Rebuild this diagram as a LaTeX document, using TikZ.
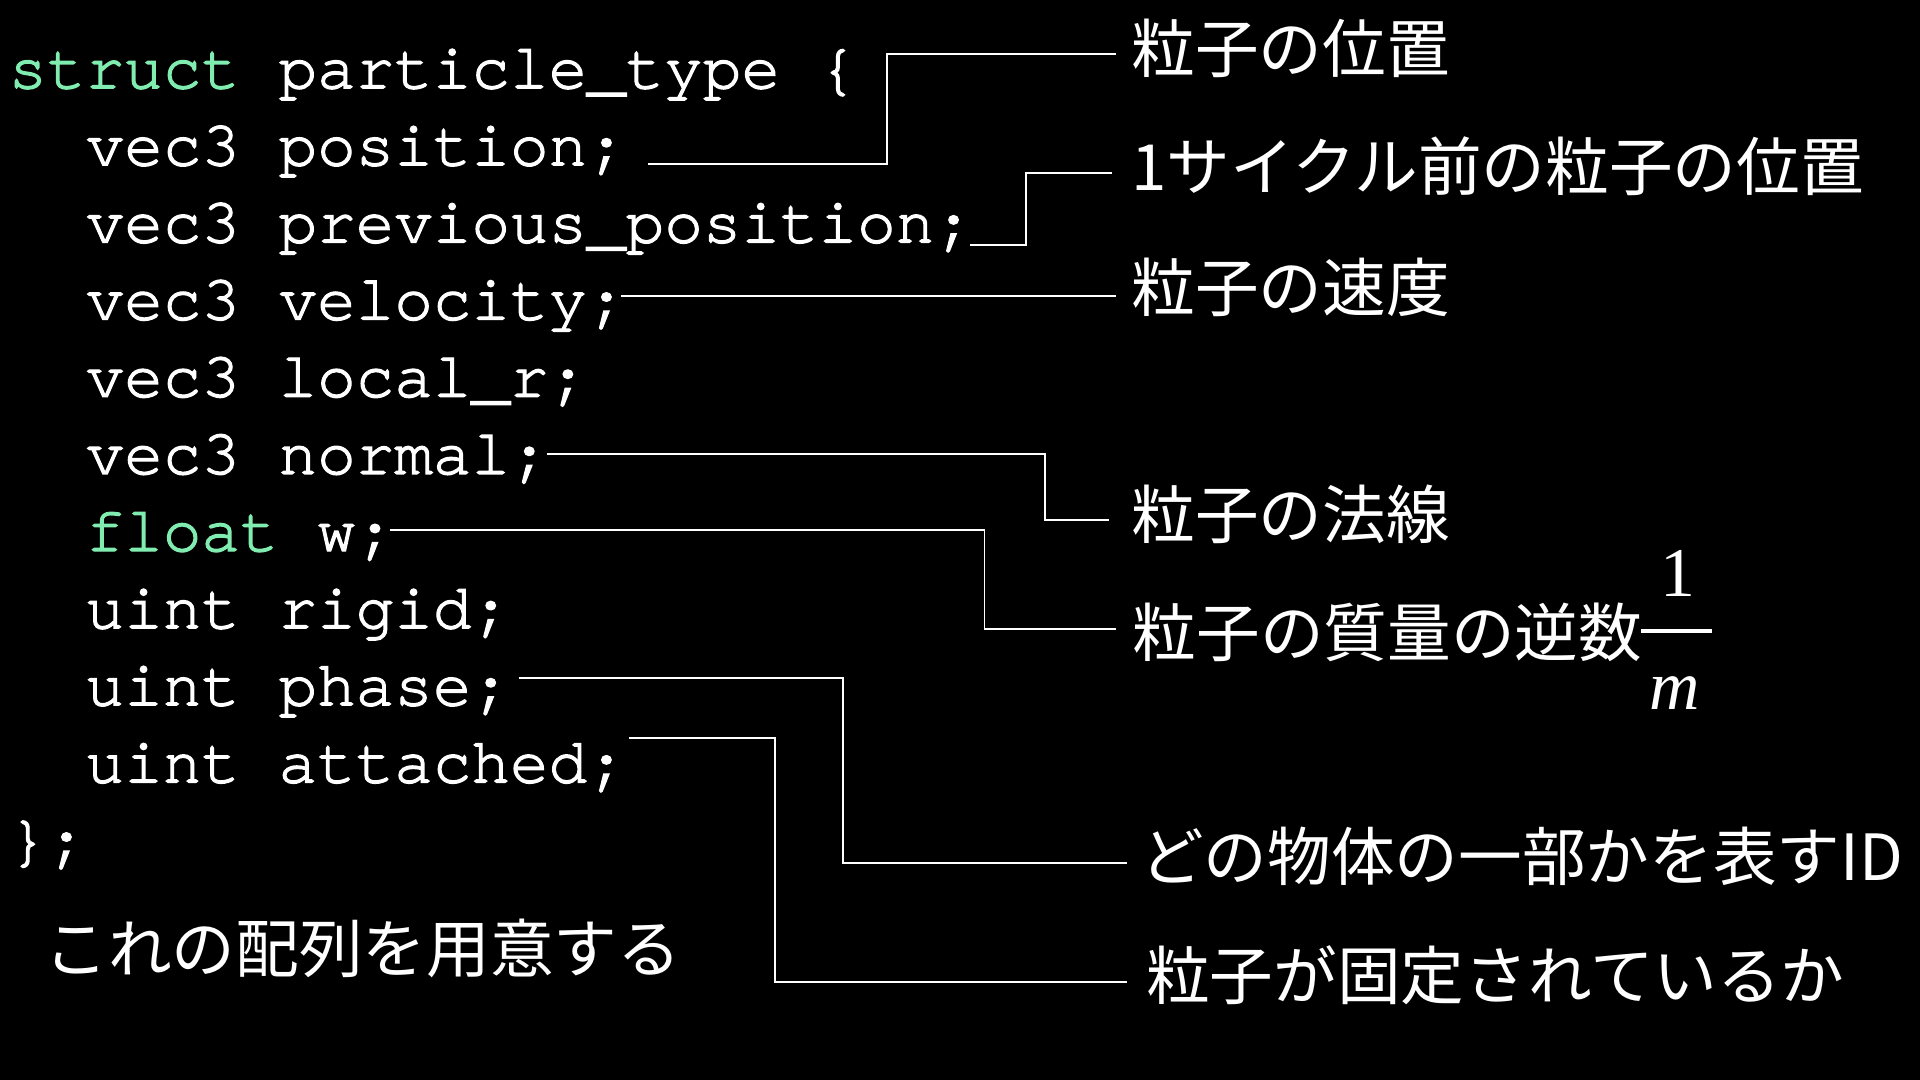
\documentclass[tikz,border=0pt]{standalone}
\usepackage{fontspec}
\newfontfamily\codefont{TeX Gyre Cursor}[FakeBold=2,Ligatures={NoCommon}]
\newfontfamily\jpfont{Noto Sans CJK JP}
\newfontfamily\mathserif{Liberation Serif}
\definecolor{kw}{RGB}{128,236,176}
\begin{document}
\begin{tikzpicture}[x=1pt,y=-1pt,
  code/.style={anchor=base west,inner sep=0pt,outer sep=0pt,text=white,
    font=\codefont\fontsize{52.5}{60}\selectfont},
  lab/.style={anchor=base west,inner sep=0pt,text=white,
    font=\jpfont\fontsize{52}{60}\selectfont},
  conn/.style={draw=white,line width=1.6pt}]
\fill[black] (0,0) rectangle (1568,882);
\useasboundingbox (0,0) rectangle (1568,882);
% code
\node[code] (c0) at (7,72) {\textcolor{kw}{struct} particle\_type \{};
\node[code] (c1) at (70,135) {vec3 position;};
\node[code] (c2) at (70,198) {vec3 previous\_position;};
\node[code] (c3) at (70,261) {vec3 velocity;};
\node[code] (c4) at (70,324) {vec3 local\_r;};
\node[code] (c5) at (70,387) {vec3 normal;};
\node[code] (c6) at (70,450) {\textcolor{kw}{float} w;};
\node[code] (c7) at (70,513) {uint rigid;};
\node[code] (c8) at (70,576) {uint phase;};
\node[code] (c9) at (70,639) {uint attached;};
\node[code] (c10) at (7,702) {\};};
\node[lab] (arr) at (36,794) {これの配列を用意する};
% labels
\node[lab,outer xsep=13pt] (l1) at (911,59.5) {粒子の位置};
\node[lab,outer xsep=16pt] (l2) at (908,155.5) {1サイクル前の粒子の位置};
\node[lab,outer xsep=13pt] (l3) at (911,254) {粒子の速度};
\node[lab,outer xsep=18pt] (l4) at (906,440) {粒子の法線};
\node[lab,outer xsep=14pt] (l5) at (911,536) {粒子の質量の逆数};
\node[lab,outer xsep=11pt] (l6) at (920,719) {どの物体の一部かを表すID};
\node[lab,outer xsep=16pt] (l7) at (920,816) {粒子が固定されているか};
% fraction
\node[anchor=base,inner sep=0pt,text=white,font=\mathserif\fontsize{57}{60}\selectfont] (num) at (1370.5,487.5) {1};
\node[anchor=base,inner sep=0pt,text=white,font=\mathserif\itshape\fontsize{57}{60}\selectfont] (den) at (1368,579.5) {m};
\draw[white,line width=3.4pt] (1340,515.5) -- (1398,515.5);
% connector start points and corners
\coordinate (s1) at (529,134);   \coordinate (k1) at (724,44);
\coordinate (s2) at (792,200);   \coordinate (k2) at (837.5,141.5);
\coordinate (s3) at (507,242);
\coordinate (s4) at (447,371);   \coordinate (k4) at (853.5,424.5);
\coordinate (s5) at (318.5,433); \coordinate (k5) at (804,513.5);
\coordinate (s6) at (424,553.5); \coordinate (k6) at (688.5,704.8);
\coordinate (s7) at (514,603);   \coordinate (k7) at (633,802);
\draw[conn] (s1) -| (k1) -- (k1 -| l1.west);
\draw[conn] (s2) -| (k2) -- (k2 -| l2.west);
\draw[conn] (s3) -- (s3 -| l3.west);
\draw[conn] (s4) -| (k4) -- (k4 -| l4.west);
\draw[conn] (s5) -| (k5) -- (k5 -| l5.west);
\draw[conn] (s6) -| (k6) -- (k6 -| l6.west);
\draw[conn] (s7) -| (k7) -- (k7 -| l7.west);
\end{tikzpicture}
\end{document}
